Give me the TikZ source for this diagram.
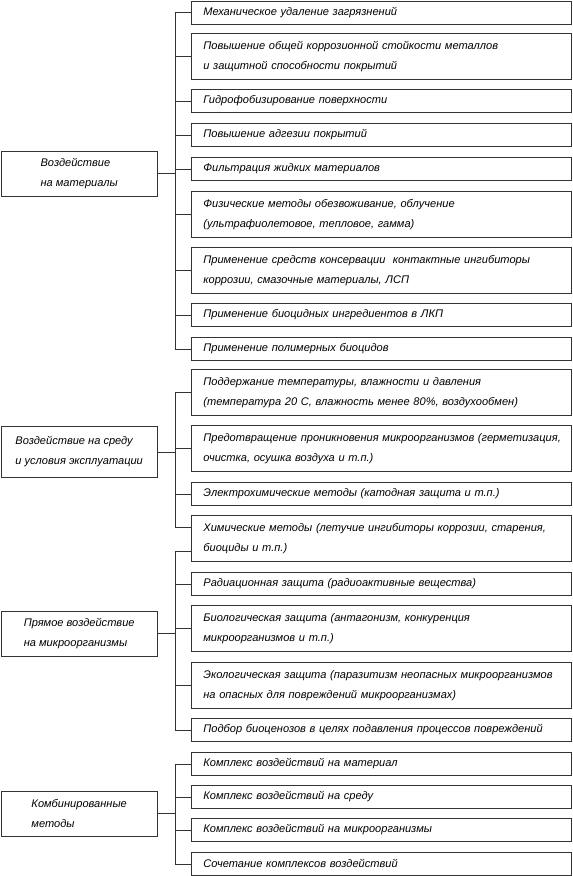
\documentclass[tikz,border=0pt]{standalone}
\usepackage{fontspec}
\setmainfont{Liberation Sans}
\usetikzlibrary{calc}

\begin{document}
\begin{tikzpicture}[x=0.75pt,y=-0.75pt,
    font=\itshape\fontsize{8.3}{15}\selectfont,
    box/.style={draw=black!80,line width=0.6pt,anchor=north west},
    rb/.style={box,minimum width=285pt,minimum height=17.25pt,text width=267pt,inner xsep=9pt,align=left},
    rbb/.style={rb,minimum height=34.5pt},
    lb/.style={box,minimum width=117.4pt,minimum height=33.5pt,align=left},
    link/.style={draw=black!80,line width=0.6pt}]
  \useasboundingbox (0,0) rectangle (573,876);
  % left column
  \node[lb] (A) at (0.5,151) {Воздействие\\на материалы};
  \node[lb,minimum height=38.25pt] (B) at (0.5,426) {Воздействие на среду\\и условия эксплуатации};
  \node[lb] (C) at (0.5,611) {Прямое воздействие\\на микроорганизмы};
  \node[lb] (D) at (0.5,791) {Комбинированные\\методы};
  % right column
  \node[rb]  (m1)  at (191,0.5) {Механическое удаление загрязнений};
  \node[rbb] (m2)  at (191,33)  {Повышение общей коррозионной стойкости металлов\\и защитной способности покрытий};
  \node[rb]  (m3)  at (191,89)  {Гидрофобизирование поверхности};
  \node[rb]  (m4)  at (191,123) {Повышение адгезии покрытий};
  \node[rb]  (m5)  at (191,157) {Фильтрация жидких материалов};
  \node[rbb] (m6)  at (191,191) {Физические методы обезвоживание, облучение\\(ультрафиолетовое, тепловое, гамма)};
  \node[rbb] (m7)  at (191,247) {Применение средств консервации\ \ контактные ингибиторы\\коррозии, смазочные материалы, ЛСП};
  \node[rb]  (m8)  at (191,303) {Применение биоцидных ингредиентов в ЛКП};
  \node[rb]  (m9)  at (191,337) {Применение полимерных биоцидов};
  \node[rbb] (m10) at (191,369) {Поддержание температуры, влажности и давления\\(температура 20 С, влажность менее 80\%, воздухообмен)};
  \node[rbb] (m11) at (191,425) {\mbox{Предотвращение проникновения микроорганизмов (герметизация,}\\очистка, осушка воздуха и т.п.)};
  \node[rb]  (m12) at (191,482) {Электрохимические методы (катодная защита и т.п.)};
  \node[rbb] (m13) at (191,515) {\mbox{Химические методы (летучие ингибиторы коррозии, старения,}\\биоциды и т.п.)};
  \node[rb]  (m14) at (191,572) {Радиационная защита (радиоактивные вещества)};
  \node[rbb] (m15) at (191,605) {Биологическая защита (антагонизм, конкуренция\\микроорганизмов и т.п.)};
  \node[rbb] (m16) at (191,662) {\mbox{Экологическая защита (паразитизм неопасных микроорганизмов}\\на опасных для повреждений микроорганизмах)};
  \node[rb]  (m17) at (191,718) {\mbox{Подбор биоценозов в целях подавления процессов повреждений}};
  \node[rb]  (m18) at (191,752) {Комплекс воздействий на материал};
  \node[rb]  (m19) at (191,785) {Комплекс воздействий на среду};
  \node[rb]  (m20) at (191,818) {Комплекс воздействий на микроорганизмы};
  \node[rb]  (m21) at (191,852) {Сочетание комплексов воздействий};
  % connectors
  \draw[link] (A.east) -- ++(18,0);
  \draw[link] (m1.west) -- ++(-16,0) |- (m9.west);
  \foreach \n in {2,...,8} \draw[link] (m\n.west) -- ++(-16,0);
  \draw[link] (B.east) -- ++(18,0);
  \draw[link] (m10.west) -- ++(-16,0) |- ([yshift=8pt]m13.west);
  \draw[link] (m11.west) -- ++(-16,0);
  \draw[link] (m12.west) -- ++(-16,0);
  \draw[link] (C.east) -- ++(18,0);
  \draw[link] ([yshift=-10pt]m13.west) -- ++(-16,0) |- (m17.west);
  \foreach \n in {14,15,16} \draw[link] (m\n.west) -- ++(-16,0);
  \draw[link] (D.east) -- ++(18,0);
  \draw[link] (m18.west) -- ++(-16,0) |- (m21.west);
  \foreach \n in {19,20} \draw[link] (m\n.west) -- ++(-16,0);
\end{tikzpicture}
\end{document}
